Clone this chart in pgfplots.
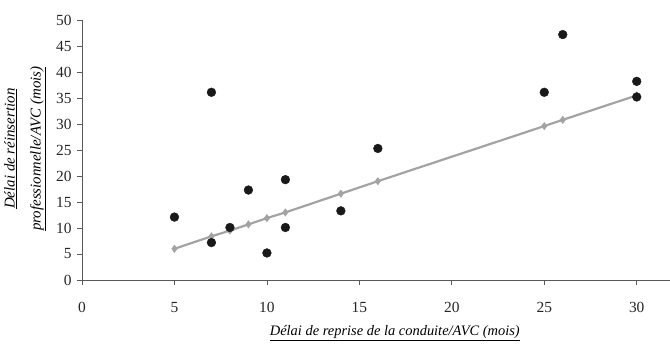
\documentclass[border=0pt]{standalone}
\usepackage{pgfplots}
\pgfplotsset{compat=1.18}
\usepackage{fontspec}
\setmainfont{Liberation Serif}
\begin{document}
\begin{tikzpicture}[x=1bp,y=1bp]
\path[use as bounding box] (-82,-65) rectangle (588,280);
\begin{axis}[
  at={(0,0)}, anchor=origin,
  scale only axis, width=588bp, height=260bp,
  xmin=0, xmax=31.8, ymin=0, ymax=50,
  axis x line*=bottom, axis y line*=left,
  axis line style={black!65, line width=0.8pt, -},
  xtick={0,5,...,30}, ytick={0,5,...,50},
  tick style={black!65, line width=0.8pt},
  tick align=outside, major tick length=5bp,
  /pgf/number format/assume math mode=true,
  ticklabel style={font=\fontsize{15.5}{17}\selectfont, black!85},
  xticklabel style={yshift=-14bp},
  yticklabel style={xshift=-2bp},
  clip=false,
  xlabel={\underline{\textit{Délai de reprise de la conduite/AVC (mois)}}},
  xlabel style={at={(axis description cs:0.532,-0.204)}, anchor=center, font=\fontsize{14.5}{16}\selectfont},
  ylabel={\underline{\textit{Délai de réinsertion}}\\[9bp]\underline{\textit{professionnelle/AVC (mois)}}},
  ylabel style={at={(axis description cs:-0.097,0.505)}, anchor=center, align=center, font=\fontsize{15}{17}\selectfont},
]
\addplot[color=black!36, line width=2.2pt, mark=diamond*, mark size=2.3pt, mark options={black!36, solid}] coordinates {
(5,6.0) (7,8.4) (8,9.5) (9,10.7) (10,11.9) (11,13.0) (14,16.6) (16,19.0) (25,29.6) (26,30.8) (30,35.5)
};
\addplot[only marks, mark=*, mark size=4.4bp, color=black!90] coordinates {
(5,12.1) (7,36.1) (7,7.2) (8,10.1) (9,17.3) (10,5.2) (11,19.3) (11,10.1) (14,13.3) (16,25.3) (25,36.1) (26,47.2) (30,38.2) (30,35.2)
};
\end{axis}
\end{tikzpicture}
\end{document}
